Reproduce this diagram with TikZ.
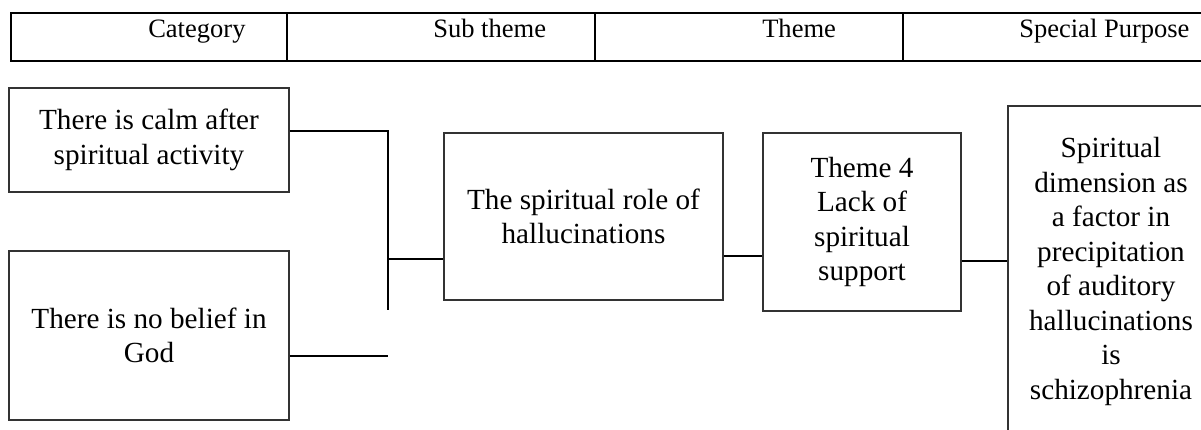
\documentclass[tikz,border=0pt]{standalone}
\usepackage{fontspec}
\setmainfont{Liberation Serif}
\begin{document}
\begin{tikzpicture}[x=0.75pt,y=-0.75pt,
  hdrline/.style={line width=1.5pt,black},
  hdrtext/.style={anchor=base west,inner sep=0pt,font=\fontsize{19.9pt}{24pt}\selectfont},
  boxnode/.style={draw=black!80,line width=0.9pt,align=center,inner sep=0pt,
     font=\fontsize{21.9pt}{25.9pt}\selectfont},
  conn/.style={line width=1.4pt,black}]
\useasboundingbox (0,0) rectangle (1201,429);
% header table
\draw[hdrline] (1205,12.5) -- (11,12.5) -- (11,60.7) -- (1205,60.7);
\draw[hdrline] (287,12.5) -- (287,60.7);
\draw[hdrline] (595,12.5) -- (595,60.7);
\draw[hdrline] (903,12.5) -- (903,60.7);
\node[hdrtext] (h1) at (148,37) {Category};
\node[hdrtext] (h2) at (433,37) {Sub theme};
\node[hdrtext] (h3) at (762,37) {Theme};
\node[hdrtext] (h4) at (1019,37) {Special Purpose};
% boxes
\node[boxnode,minimum width=210pt,minimum height=78pt] (b1) at (149,140) {There is calm after\\spiritual activity};
\node[boxnode,minimum width=210pt,minimum height=126.75pt] (b2) at (149,335.5) {There is no belief in\\God};
\node[boxnode,minimum width=209.25pt,minimum height=125.25pt] (b3) at (583.5,216.5) {The spiritual role of\\hallucinations};
\node[boxnode,minimum width=148.5pt,minimum height=133.5pt] (b4) at (862,222) {Theme 4\\Lack of\\spiritual\\support};
\node[boxnode,minimum width=154.5pt,minimum height=248.25pt] (b5) at (1111,271.5) {Spiritual\\dimension as\\a factor in\\precipitation\\of auditory\\hallucinations\\is\\schizophrenia};
% junction coordinates
\coordinate (j1) at (388,131);
\coordinate (j2) at (388,259);
\coordinate (j3) at (388,310);
\coordinate (j4) at (388,356);
% connectors
\draw[conn] (b1.east |- j1) -- (j1) -- (j3);
\draw[conn] (j2) -- (b3.west |- j2);
\draw[conn] (b2.east |- j4) -- (j4);
\draw[conn] (b3.east |- 0,256) -- (b4.west |- 0,256);
\draw[conn] (b4.east |- 0,261) -- (b5.west |- 0,261);
\end{tikzpicture}
\end{document}
